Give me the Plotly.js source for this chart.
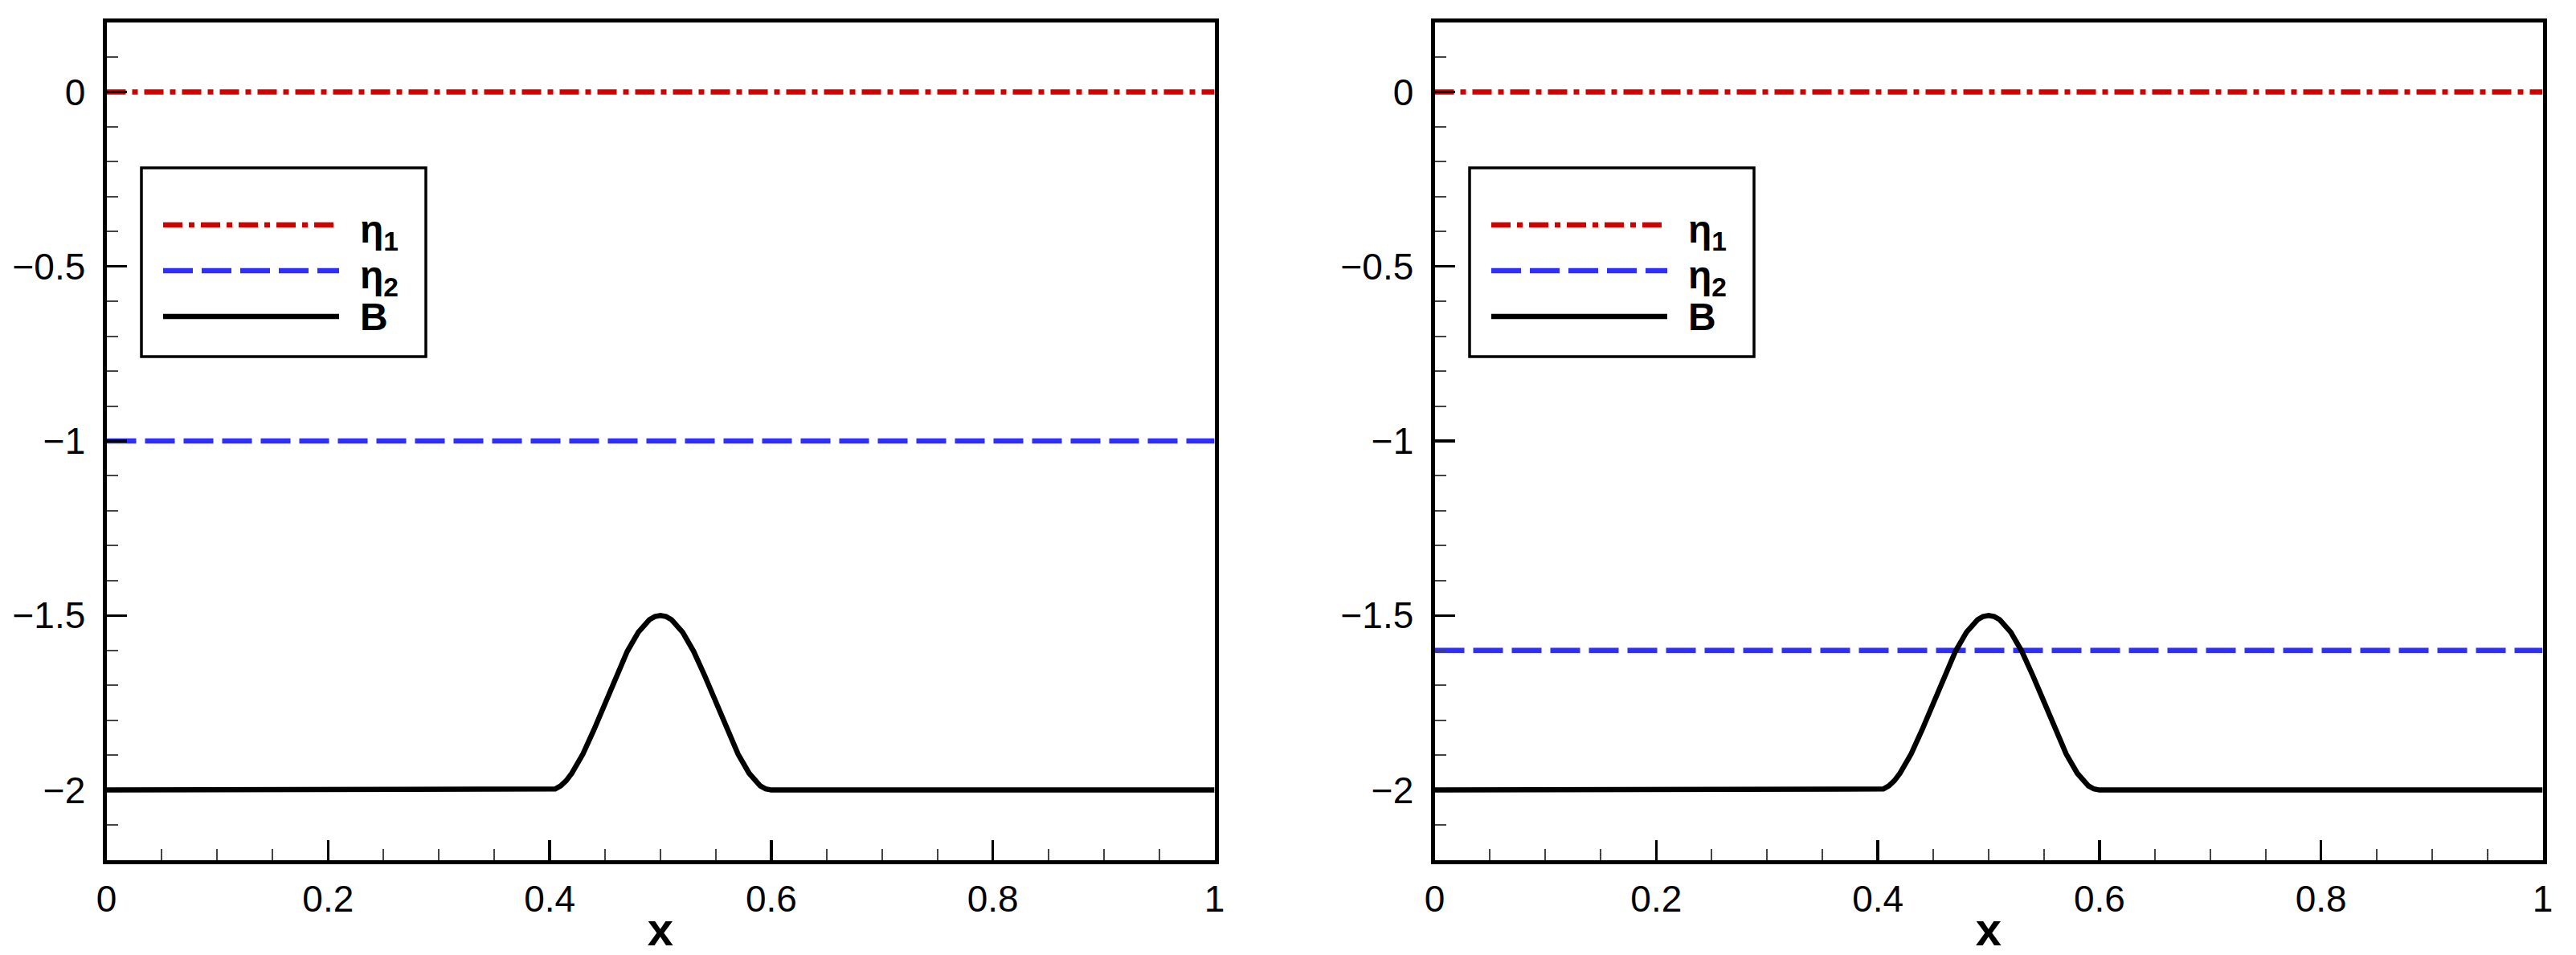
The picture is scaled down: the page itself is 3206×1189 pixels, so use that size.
<!DOCTYPE html>
<html>
<head>
<meta charset="utf-8">
<script src="https://cdn.plot.ly/plotly-3.0.1.min.js"></script>
<style>
html,body{margin:0;padding:0;background:#fff;}
#chart{width:3206px;height:1189px;}
</style>
</head>
<body>
<div id="chart"></div>
<script>
// ---- data ----
const xFlat = [0, 1];
const eta1Left = [0, 0];
const eta2Left = [-1, -1];
const eta1Right = [0, 0];
const eta2Right = [-1.6, -1.6];
const xB = [0, 0.40, 0.405, 0.41, 0.415, 0.42, 0.43, 0.44, 0.45, 0.46, 0.47, 0.48, 0.49, 0.495, 0.50,
            0.505, 0.51, 0.52, 0.53, 0.54, 0.55, 0.56, 0.57, 0.58, 0.585, 0.59, 0.595, 0.60, 1];
const bValues = [-2, -2, -1.997, -1.988, -1.973, -1.952, -1.897, -1.827, -1.75, -1.673, -1.603, -1.548, -1.512, -1.503, -1.5,
                 -1.503, -1.512, -1.548, -1.603, -1.673, -1.75, -1.827, -1.897, -1.952, -1.973, -1.988, -1.997, -2, -2];
const seriesNames = ['η<sub>1</sub>', 'η<sub>2</sub>', 'B'];
const xTickLabels = ['0', '0.2', '0.4', '0.6', '0.8', '1'];
const xTickValues = [0, 0.2, 0.4, 0.6, 0.8, 1];
const yTickValues = [0, -0.5, -1, -1.5, -2];
const yTickLabels = ['0', '−0.5', '−1', '−1.5', '−2'];

// ---- styles ----
const W = 3206, H = 1189;
const FONT = 'Liberation Sans, Arial, sans-serif';
const RED = '#d40000', BLUE = '#2e2eff', BLACK = '#000000';
const LW = 6.5;
const DASH_RED = '24px,8px,7px,8px';
const DASH_BLUE = '37px,11px';

function px2x(p){ return p / W; }
function px2y(p){ return 1 - p / H; }

const traces = [
  {x: xFlat, y: eta1Left, xaxis:'x', yaxis:'y', mode:'lines', line:{color:RED, width:LW, dash:DASH_RED}, name: seriesNames[0]},
  {x: xFlat, y: eta2Left, xaxis:'x', yaxis:'y', mode:'lines', line:{color:BLUE, width:LW, dash:DASH_BLUE}, name: seriesNames[1]},
  {x: xB, y: bValues, xaxis:'x', yaxis:'y', mode:'lines', line:{color:BLACK, width:LW}, name: seriesNames[2]},
  {x: xFlat, y: eta1Right, xaxis:'x2', yaxis:'y2', mode:'lines', line:{color:RED, width:LW, dash:DASH_RED}, name: seriesNames[0]},
  {x: xFlat, y: eta2Right, xaxis:'x2', yaxis:'y2', mode:'lines', line:{color:BLUE, width:LW, dash:DASH_BLUE}, name: seriesNames[1]},
  {x: xB, y: bValues, xaxis:'x2', yaxis:'y2', mode:'lines', line:{color:BLACK, width:LW}, name: seriesNames[2]}
];

const tickFont = {family: FONT, size: 46, color: '#000'};
function xAxis(domain, anchor){
  return {
    domain: domain, anchor: anchor, range: [0, 1], autorange: false,
    tickmode: 'array', tickvals: xTickValues, ticktext: xTickLabels,
    ticks: 'inside', ticklen: 25, tickwidth: 3.5, tickcolor: '#000',
    minor: {dtick: 0.05, tick0: 0, ticks: 'inside', ticklen: 14, tickwidth: 2, tickcolor: '#444'},
    showline: true, linewidth: 5, linecolor: '#000', mirror: true,
    showgrid: false, zeroline: false,
    tickfont: tickFont, ticklabelstandoff: 4,
    title: {text: '<b>x</b>', font: {family: FONT, size: 58, color: '#000'}, standoff: 0}
  };
}
function yAxis(anchor){
  return {
    domain: [1 - 1070.5 / H, 1 - 27.5 / H], anchor: anchor, range: [-2.2, 0.2], autorange: false,
    tickmode: 'array', tickvals: yTickValues, ticktext: yTickLabels,
    ticks: 'inside', ticklen: 25, tickwidth: 3.5, tickcolor: '#000',
    minor: {dtick: 0.1, tick0: 0, ticks: 'inside', ticklen: 14, tickwidth: 2, tickcolor: '#444'},
    showline: true, linewidth: 5, linecolor: '#000', mirror: true,
    showgrid: false, zeroline: false,
    tickfont: tickFont, ticklabelstandoff: 12
  };
}

// ---- legend drawn as boxes in each panel ----
const shapes = [], annotations = [];
const legendColors = [RED, BLUE, BLACK];
const legendDash = [DASH_RED, DASH_BLUE, 'solid'];
[0, 1653].forEach(function(off){
  shapes.push({type:'rect', xref:'paper', yref:'paper',
    x0: px2x(176 + off), x1: px2x(530 + off), y0: px2y(444), y1: px2y(209),
    line:{color:'#000', width:3.5}, fillcolor:'#fff', layer:'above'});
  const rows = [280, 337, 394];
  rows.forEach(function(ry, i){
    shapes.push({type:'line', xref:'paper', yref:'paper',
      x0: px2x(203 + off), x1: px2x(422 + off), y0: px2y(ry), y1: px2y(ry),
      line:{color: legendColors[i], width: LW, dash: legendDash[i]}, layer:'above'});
    annotations.push({xref:'paper', yref:'paper', x: px2x(446 + off), y: px2y(ry + (i < 2 ? 9 : 0)),
      xanchor:'left', yanchor:'middle', showarrow:false,
      text: '<b>' + seriesNames[i] + '</b>', font:{family: FONT, size: 48, color:'#000'}});
  });
});

const layout = {
  width: W, height: H,
  margin: {l: 0, r: 0, t: 0, b: 0, pad: 0},
  paper_bgcolor: '#fff', plot_bgcolor: '#fff',
  showlegend: false,
  xaxis: xAxis([132.5 / W, 1511.5 / W], 'y'),
  yaxis: yAxis('x'),
  xaxis2: xAxis([1785.5 / W, 3164.5 / W], 'y2'),
  yaxis2: yAxis('x2'),
  shapes: shapes,
  annotations: annotations
};

Plotly.newPlot('chart', traces, layout, {displayModeBar: false, staticPlot: true});
</script>
</body>
</html>
